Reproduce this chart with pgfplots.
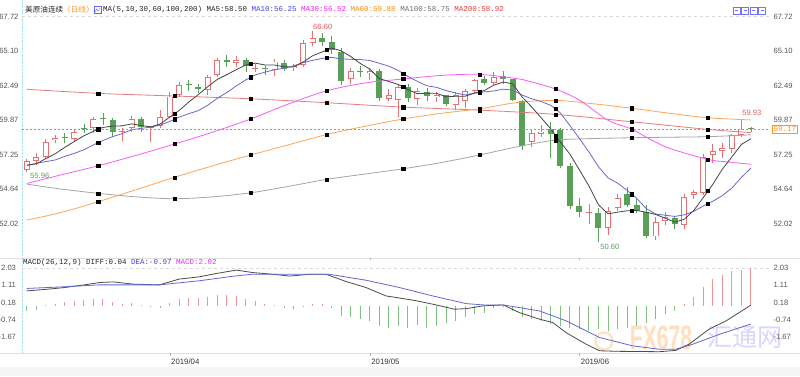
\documentclass[border=0pt]{standalone}
\usepackage{pgfplots}
\pgfplotsset{compat=1.18}
\usepackage{pgfplotstable}
\usepackage{fontspec}
\setmainfont{Liberation Sans}
\setmonofont{Liberation Mono}
\newfontfamily\cjk{Noto Sans CJK SC}

\definecolor{cred}{RGB}{232,112,112}
\definecolor{cgreen}{RGB}{88,160,88}
\definecolor{ma5}{RGB}{70,70,70}
\definecolor{ma10}{RGB}{105,105,205}
\definecolor{ma30}{RGB}{250,90,250}
\definecolor{ma60}{RGB}{255,165,85}
\definecolor{ma100}{RGB}{165,165,165}
\definecolor{ma200}{RGB}{228,125,125}
\definecolor{tickc}{RGB}{85,85,85}
\definecolor{hred}{RGB}{238,150,150}
\definecolor{hgreen}{RGB}{130,192,130}
\definecolor{difc}{RGB}{75,75,75}
\definecolor{deac}{RGB}{100,100,215}
\definecolor{t10}{RGB}{70,70,220}
\definecolor{t30}{RGB}{245,40,245}
\definecolor{t60}{RGB}{255,140,20}
\definecolor{t100}{RGB}{110,110,110}
\definecolor{t200}{RGB}{230,60,60}
\definecolor{lred}{RGB}{228,90,90}
\definecolor{lgreen}{RGB}{90,160,90}
\definecolor{corange}{RGB}{250,150,40}
\definecolor{cdot}{RGB}{100,160,245}

\pgfplotstableread{
x o h l c
0 56.10 56.90 55.96 56.75
1 56.75 57.40 56.50 57.05
2 57.05 58.40 56.90 58.23
3 58.35 58.75 58.10 58.50
5 58.45 59.20 58.30 58.95
7 59.25 60.10 58.90 59.95
10 58.95 59.30 58.30 59.05
11 59.25 60.20 59.00 59.95
13 59.30 59.45 58.20 59.40
14 59.40 60.60 59.30 60.12
15 60.10 62.00 60.00 61.65
16 61.80 62.75 61.60 62.50
19 62.15 63.30 61.80 63.10
20 63.30 64.60 63.10 64.40
22 64.20 64.70 63.90 64.42
24 63.70 64.10 63.50 63.80
26 63.67 64.50 63.20 64.30
28 63.80 64.10 63.60 63.95
29 64.04 65.90 63.90 65.67
30 65.70 66.60 65.50 66.10
34 62.95 63.80 62.60 63.55
36 63.40 63.80 62.90 63.60
38 61.50 62.20 61.30 61.75
39 61.40 62.60 60.10 62.40
41 61.50 62.30 61.00 62.10
43 61.60 62.00 61.20 61.75
45 61.00 62.00 60.60 61.75
46 61.30 62.20 60.80 62.10
47 62.10 63.00 61.90 62.90
49 62.70 63.50 62.50 63.10
53 58.20 59.10 57.80 58.90
54 58.80 59.50 58.60 59.00
59 52.85 53.50 52.00 52.90
61 51.70 53.30 51.20 53.00
62 53.20 54.30 53.00 53.95
66 51.05 52.50 50.80 52.15
67 52.20 52.90 51.90 52.50
69 51.95 54.30 51.60 54.05
70 54.20 54.60 53.90 54.40
71 54.35 57.30 54.20 57.05
72 57.20 58.05 56.60 57.50
73 57.55 58.10 57.00 57.75
74 57.70 58.80 57.40 58.70
75 58.75 59.93 58.60 59.15
}\redc

\pgfplotstableread{
x o h l c
4 58.55 58.90 58.10 58.50
6 59.30 59.60 58.90 59.22
8 60.05 60.40 59.50 59.95
9 59.85 60.00 58.60 59.00
12 59.95 60.10 58.95 59.35
17 62.55 62.90 62.10 62.50
18 62.35 62.60 61.90 62.25
21 64.40 64.80 63.90 64.30
23 64.42 64.60 63.50 64.00
25 63.80 64.00 63.30 63.70
27 64.20 64.40 63.60 63.70
31 66.10 66.50 65.50 65.75
32 65.80 66.20 64.90 65.16
33 65.05 65.30 62.50 62.85
35 63.60 64.00 63.10 63.50
37 63.55 63.70 61.30 61.55
40 62.40 62.60 61.20 61.55
42 62.00 62.30 61.30 61.70
44 61.75 61.80 60.90 61.05
48 62.95 63.20 62.50 62.70
50 63.20 63.60 62.60 62.95
51 62.95 63.00 61.30 61.40
52 61.30 61.40 57.60 57.90
55 59.20 59.70 57.00 58.80
56 59.10 59.30 56.20 56.40
57 56.40 56.60 53.10 53.35
58 53.35 54.00 52.50 52.90
60 52.80 53.20 50.60 51.70
63 54.30 54.80 53.30 53.45
64 53.40 53.90 52.80 53.00
65 52.90 53.40 50.90 51.05
68 52.45 52.60 51.60 52.00
76 59.25 59.35 59.00 59.17
}\greenc

\pgfplotsset{
  panel/.style={scale only axis, width=748pt, xmin=-0.5, xmax=78,
    axis line style={draw=none}, tick style={draw=none}, xtick=\empty,
    major tick length=0pt,
    tick label style={font=\fontsize{7.6}{9}\selectfont, text=tickc}},
  mainp/.style={panel, at={(22pt,118pt)}, anchor=south west, height=254pt,
    ymin=49.42, ymax=68.66,
    ytick={52.02,54.64,57.25,59.87,62.49,65.10,67.72},
    yticklabels={52.02,54.64,57.25,59.87,62.49,65.10,67.72}},
  macdp/.style={panel, at={(22pt,23pt)}, anchor=south west, height=93pt,
    ymin=-2.52, ymax=2.45,
    ytick={-1.67,-0.74,0.18,1.11,2.03},
    yticklabels={-1.67,-0.74,0.18,1.11,2.03}},
  wick/.style={draw=none, mark=none, forget plot, error bars/.cd, y dir=plus, y explicit, error mark=none, error bar style={draw=#1, line width=0.8pt}},
  body/.style 2 args={draw=none, mark=none, forget plot, error bars/.cd, y dir=plus, y explicit, error mark=none, error bar style={draw=#1, line width=#2}},
}

\begin{document}
\begin{tikzpicture}
\fill[white] (0pt,0pt) rectangle (800pt,376pt);
\fill[gray!8] (0pt,0pt) rectangle (800pt,9pt);
\draw[gray!25, line width=0.6pt] (0pt,118pt) -- (800pt,118pt);
\draw[gray!25, line width=0.6pt] (0pt,22.5pt) -- (800pt,22.5pt);
\draw[cyan!35, densely dotted] (22pt,22.5pt) -- (22pt,376pt);

% watermark
\draw[orange!22, line width=2.5pt] (604pt,35pt) circle (8.5pt);
\node[text=orange!25, font=\fontsize{34}{34}\selectfont\bfseries] at (661pt,38pt) {\scalebox{0.62}[1]{FX678}};
\node[text=blue!16, font=\cjk\fontsize{25}{25}\selectfont] at (745pt,39pt) {汇通网};

% main panel
\begin{axis}[mainp]
\addplot[dashed, gray!30, forget plot] coordinates {(-0.5,67.72) (78,67.72)};
% red candles
\addplot[wick=cred] table[x=x, y=l, y error expr={\thisrow{h}-\thisrow{l}}] {\redc};
\addplot[body={cred}{6pt}] table[x=x, y=o, y error expr={max(\thisrow{c}-\thisrow{o},0.08)}] {\redc};
\addplot[body={white}{4.3pt}] table[x=x, y expr=\thisrow{o}+0.07, y error expr={max(\thisrow{c}-\thisrow{o}-0.14,0)}] {\redc};
% green candles
\addplot[wick=cgreen] table[x=x, y=l, y error expr={\thisrow{h}-\thisrow{l}}] {\greenc};
\addplot[body={cgreen}{6pt}] table[x=x, y=c, y error expr={max(\thisrow{o}-\thisrow{c},0.08)}] {\greenc};

% moving averages
\addplot[ma200, line width=0.8pt, smooth] coordinates {(0,62.2)(7.5,61.89)(15.5,61.69)(23.5,61.48)(31.5,61.18)(39.5,60.85)(47.5,60.62)(55.5,60.30)(63.5,59.74)(71.5,59.16)(76,58.92)};
\addplot[ma100, line width=0.8pt, smooth] coordinates {(0,55.02)(3.5,54.65)(7.5,54.32)(11.5,54.05)(15.5,53.91)(19.5,54.05)(23.5,54.36)(27.5,54.85)(31.5,55.38)(35.5,55.78)(39.5,56.18)(43.5,56.65)(47.5,57.22)(51.5,57.85)(55.5,58.35)(59.5,58.47)(63.5,58.53)(67.5,58.57)(71.5,58.61)(76,58.75)};
\addplot[ma60, line width=0.8pt, smooth] coordinates {(0,52.29)(3.5,52.85)(7.5,53.68)(11.5,54.6)(15.5,55.53)(19.5,56.4)(23.5,57.22)(27.5,58.0)(31.5,58.78)(35.5,59.4)(39.5,59.95)(43.5,60.38)(47.5,60.72)(51.5,61.2)(55.5,61.36)(59.5,61.1)(63.5,60.76)(67.5,60.38)(71.5,60.04)(76,59.88)};
\addplot[ma30, line width=0.8pt, smooth] coordinates {(0,55.07)(3.5,55.7)(7.5,56.41)(11.5,57.2)(15.5,58.05)(19.5,58.95)(23.5,59.95)(27.5,61.1)(31.5,62.09)(35.5,62.68)(39.5,62.98)(43.5,63.25)(47.5,63.33)(51.5,63.0)(53,62.75)(55.5,62.22)(58,61.38)(61,59.85)(63.5,59.17)(67,57.85)(71.5,56.89)(73.5,56.7)(76,56.52)};
\addplot[ma10, line width=0.8pt] coordinates {(0,56.43)(1,56.59)(2,56.72)(3,56.85)(4,57.12)(5,57.35)(6,57.62)(7,57.99)(8,58.32)(9,58.61)(10,58.84)(11,59.13)(12,59.24)(13,59.33)(14,59.49)(15,59.76)(16,60.09)(17,60.35)(18,60.58)(19,60.99)(20,61.52)(21,61.96)(22,62.46)(23,62.92)(24,63.29)(25,63.50)(26,63.68)(27,63.80)(28,63.97)(29,64.22)(30,64.39)(31,64.54)(32,64.62)(33,64.50)(34,64.47)(35,64.45)(36,64.38)(37,64.17)(38,63.95)(39,63.62)(40,63.17)(41,62.80)(42,62.46)(43,62.35)(44,62.10)(45,61.92)(46,61.77)(47,61.91)(48,62.00)(49,62.07)(50,62.21)(51,62.14)(52,61.76)(53,61.48)(54,61.27)(55,60.98)(56,60.41)(57,59.45)(58,58.47)(59,57.45)(60,56.33)(61,55.49)(62,55.09)(63,54.55)(64,53.95)(65,53.17)(66,52.75)(67,52.66)(68,52.57)(69,52.69)(70,52.96)(71,53.36)(72,53.72)(73,54.15)(74,54.72)(75,55.53)(76,56.23)};
\addplot[ma5, line width=0.8pt] coordinates {(0,56.45)(1,56.55)(2,56.95)(3,57.32)(4,57.81)(5,58.25)(6,58.68)(7,59.02)(8,59.31)(9,59.41)(10,59.43)(11,59.58)(12,59.46)(13,59.35)(14,59.57)(15,60.09)(16,60.60)(17,61.23)(18,61.80)(19,62.40)(20,62.95)(21,63.31)(22,63.69)(23,64.04)(24,64.18)(25,64.04)(26,64.04)(27,63.90)(28,63.89)(29,64.26)(30,64.74)(31,65.03)(32,65.33)(33,65.11)(34,64.68)(35,64.16)(36,63.73)(37,63.01)(38,62.79)(39,62.56)(40,62.17)(41,61.87)(42,61.90)(43,61.90)(44,61.63)(45,61.67)(46,61.67)(47,61.91)(48,62.10)(49,62.51)(50,62.75)(51,62.61)(52,61.61)(53,60.85)(54,60.03)(55,59.20)(56,58.20)(57,57.29)(58,56.09)(59,54.87)(60,53.45)(61,52.77)(62,52.89)(63,53.00)(64,53.02)(65,52.89)(66,52.72)(67,52.43)(68,52.14)(69,52.35)(70,53.02)(71,54.00)(72,55.00)(73,56.15)(74,57.08)(75,58.03)(76,58.45)};

% current price line
\addplot[cdot, dash pattern=on 2pt off 2pt, line width=0.9pt] coordinates {(-0.5,59.17) (78,59.17)};

% markers on the averages
\addplot[only marks, mark=square*, mark size=1.6pt, black] coordinates {
(7.5,59.17)(7.5,58.16)(7.5,56.41)(7.5,53.68)(7.5,54.32)(7.5,61.89)
(15.5,60.35)(15.5,59.93)(15.5,58.05)(15.5,55.53)(15.5,53.91)(15.5,61.69)
(23.5,64.11)(23.5,63.11)(23.5,59.95)(23.5,57.22)(23.5,54.36)(23.5,61.48)
(31.5,65.18)(31.5,64.58)(31.5,62.09)(31.5,58.78)(31.5,55.38)(31.5,61.18)
(39.5,62.37)(39.5,63.40)(39.5,62.98)(39.5,59.95)(39.5,56.18)(39.5,60.85)
(47.5,62.01)(47.5,61.96)(47.5,63.33)(47.5,60.72)(47.5,57.22)(47.5,60.62)
(55.5,58.70)(55.5,60.70)(55.5,62.22)(55.5,61.36)(55.5,58.35)(55.5,60.30)
(63.5,53.01)(63.5,54.25)(63.5,59.17)(63.5,60.76)(63.5,58.53)(63.5,59.74)
(71.5,54.50)(71.5,53.54)(71.5,56.89)(71.5,60.04)(71.5,58.61)(71.5,59.16)};

\node[text=lred, font=\fontsize{7.6}{9}\selectfont] at (axis cs:31.06,66.95) {66.60};
\node[text=lgreen, font=\fontsize{7.6}{9}\selectfont] at (axis cs:61.2,50.29) {50.60};
\node[text=lgreen, font=\fontsize{7.6}{9}\selectfont] at (axis cs:1.36,55.67) {55.96};
\node[text=lred, font=\fontsize{7.6}{9}\selectfont] at (axis cs:76.1,60.44) {59.93};
\end{axis}

% right labels of main panel
\begin{axis}[mainp, yticklabel pos=right]
\addplot[draw=none] coordinates {(0,60)};
\end{axis}

% MACD panel
\begin{axis}[macdp, xtick={15,36,58}, xticklabels={2019/04,2019/05,2019/06},
  x tick style={draw=gray!60}, tick align=outside, major tick length=2.5pt,
  xticklabel style={anchor=north west, xshift=-2pt, text=black!80, font=\fontsize{7.8}{9}\selectfont}]
\addplot[dashed, gray!30, forget plot] coordinates {(-0.5,2.03) (78,2.03)};
\addplot[ycomb, hred, line width=1pt, forget plot] coordinates {
(2,0.05)(3,0.12)(4,0.18)(5,0.27)(6,0.30)(7,0.39)(8,0.39)(9,0.21)(10,0.12)(11,0.16)(12,0.05)
(15,0.14)(16,0.36)(17,0.41)(18,0.41)(19,0.48)(20,0.59)(21,0.59)(22,0.53)(23,0.39)(24,0.27)(25,0.09)(26,0.05)
(30,0.09)(31,0.09)
(69,0.12)(70,0.48)(71,1.02)(72,1.43)(73,1.66)(74,1.87)(75,1.91)(76,2.02)};
\addplot[ycomb, hgreen, line width=1pt, forget plot] coordinates {
(0,-0.30)(1,-0.23)(13,-0.05)(14,-0.09)(27,-0.12)(28,-0.18)(29,-0.05)(32,-0.09)
(33,-0.53)(34,-0.62)(35,-0.71)(36,-0.80)(37,-1.07)(38,-1.16)(39,-1.07)(40,-1.16)
(41,-1.03)(42,-1.16)(43,-1.07)(44,-0.89)(45,-0.80)(46,-0.62)(47,-0.45)(48,-0.36)
(49,-0.12)(50,-0.05)(51,-0.25)(52,-0.62)(53,-0.71)(54,-0.80)(55,-0.98)(56,-1.07)
(57,-1.16)(58,-1.25)(59,-1.34)(60,-1.25)(61,-1.34)(62,-1.25)(63,-1.16)(64,-1.07)
(65,-0.89)(66,-0.71)(67,-0.45)(68,-0.27)};
\addplot[difc, line width=0.8pt] coordinates {(0,0.80)(2,0.88)(4,0.98)(6,1.12)(7.7,1.25)(9.1,1.28)(11.2,1.16)(13.9,1.12)(16,1.43)(18.1,1.55)(19.9,1.73)(22,1.91)(23.7,1.78)(25.8,1.69)(27.6,1.59)(29.7,1.69)(31.4,1.69)(33.5,1.30)(35.6,0.98)(37.7,0.53)(39.1,0.42)(40.9,0.27)(42.6,0.09)(44.9,-0.18)(46.1,-0.15)(47.9,0.0)(50,0.05)(51.7,-0.36)(53.8,-0.71)(55.2,-0.89)(56.6,-1.43)(58.7,-2.05)(60.1,-2.40)(62,-2.43)(64,-2.44)(66.4,-2.45)(68.1,-2.38)(69.5,-2.05)(71.6,-1.25)(73.4,-0.80)(76,0.04)};
\addplot[deac, line width=0.8pt] coordinates {(0,0.93)(4,1.02)(7.5,1.12)(13.9,1.12)(18.1,1.34)(21.6,1.58)(23.7,1.69)(27.9,1.69)(31.7,1.69)(35.6,1.37)(39.1,0.98)(42.6,0.53)(46.1,0.12)(47.9,0.05)(50,0.05)(53.8,-0.27)(56.6,-0.80)(60.1,-1.69)(63.6,-2.14)(66.4,-2.32)(68.1,-2.32)(69.9,-2.05)(72.7,-1.52)(76,-0.97)};
\end{axis}

\begin{axis}[macdp, yticklabel pos=right]
\addplot[draw=none] coordinates {(0,0)};
\end{axis}

% legends
\node[anchor=west, inner sep=0pt, font=\cjk\fontsize{7.6}{9}\selectfont, text=black!85] at (25pt,366pt) {美原油连续\textcolor{corange}{〈日线〉}};
\draw[blue!60, line width=0.5pt] (94pt,362.5pt) rectangle (101pt,369.5pt);
\draw[blue!60, line width=0.4pt] (95pt,364pt) -- (96.5pt,367pt) -- (98pt,365pt) -- (100pt,368pt);
\node[anchor=west, inner sep=0pt, font=\ttfamily\fontsize{7.5}{9}\selectfont, text=black!85] at (103pt,366pt)
 {MA(5,10,30,60,100,200) MA5:58.50 \textcolor{t10}{MA10:56.25} \textcolor{t30}{MA30:56.52} \textcolor{t60}{MA60:59.88} \textcolor{t100}{MA100:58.75} \textcolor{t200}{MA200:58.92}};
\node[anchor=west, inner sep=0pt, font=\ttfamily\fontsize{7.5}{9}\selectfont, text=black!85] at (23pt,113pt)
 {MACD(26,12,9) DIFF:0.04 \textcolor{t10}{DEA:-0.97} \textcolor{t30}{MACD:2.02}};
\foreach \i in {0,1,2,3} {
  \draw[blue!55, line width=0.5pt] (733pt+8.5pt*\i,362pt) rectangle ++(7pt,7pt);
  \draw[blue!55, line width=0.5pt] (735pt+8.5pt*\i,365.5pt) -- (738pt+8.5pt*\i,365.5pt);
}
% current price tag
\node[draw=corange, fill=white, text=corange, anchor=west, inner sep=1.3pt, font=\ttfamily\fontsize{7.5}{9}\selectfont] at (772pt,247pt) {59.17};

\pgfresetboundingbox
\path[use as bounding box] (0pt,0pt) rectangle (800pt,376pt);
\end{tikzpicture}
\end{document}
